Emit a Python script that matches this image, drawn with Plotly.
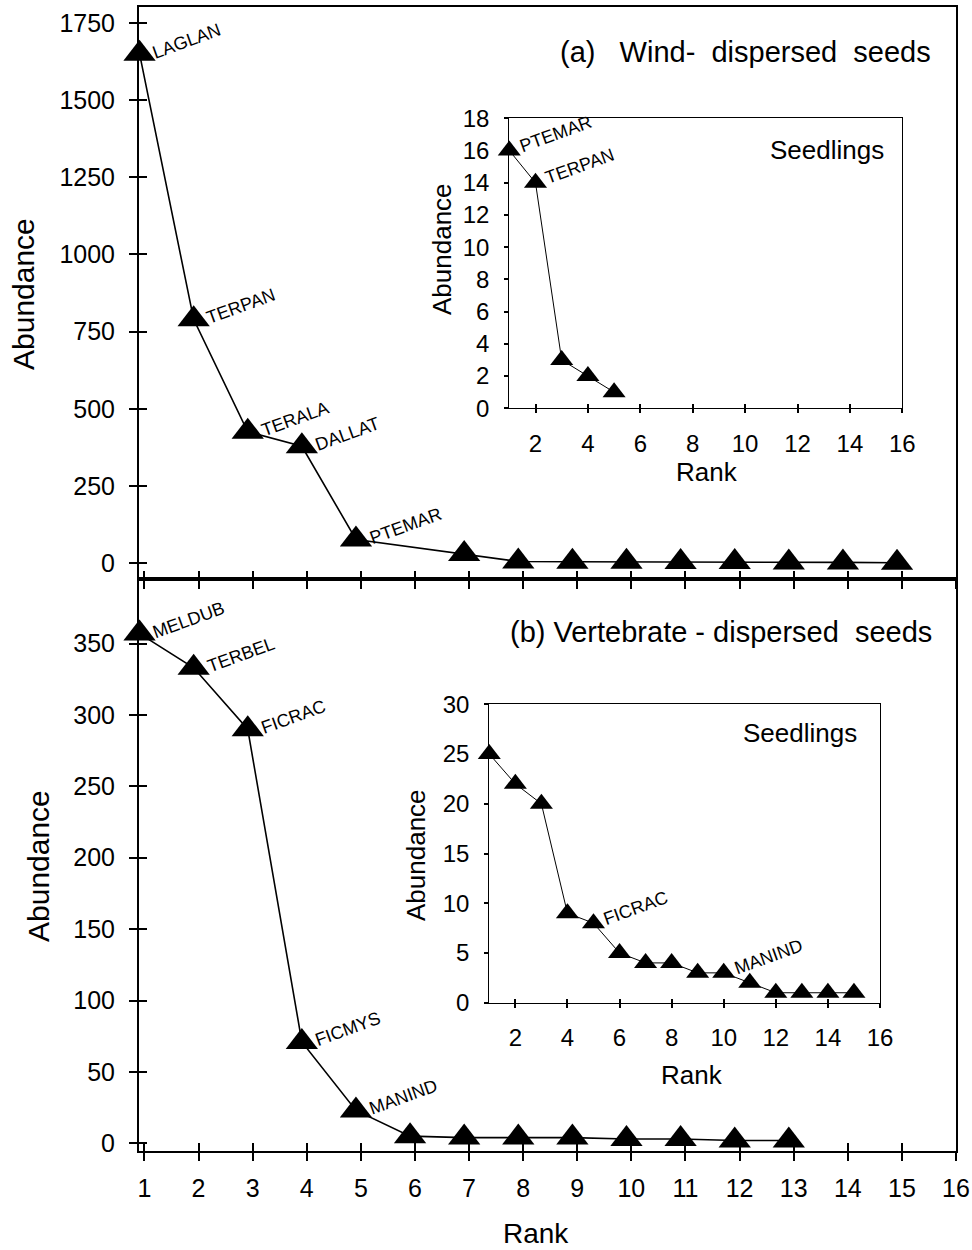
import plotly.graph_objects as go

W, H = 972, 1250
FONT = "Liberation Sans, Arial, sans-serif"


def fx(p):
    return p / W


def fy(p):
    return 1 - p / H


# ---------------- data ----------------
main_tick_ranks = list(range(1, 17))
inset_tick_ranks = [2, 4, 6, 8, 10, 12, 14, 16]

# (a) wind-dispersed seeds (main)
wind_seed_rank = [1, 2, 3, 4, 5, 7, 8, 9, 10, 11, 12, 13, 14, 15]
wind_seed_abund = [1650, 790, 426, 379, 77, 30, 6, 5, 5, 4, 4, 3, 3, 2]
wind_seed_label_rank = [1, 2, 3, 4, 5]
wind_seed_labels = ["LAGLAN", "TERPAN", "TERALA", "DALLAT", "PTEMAR"]

# (a) wind-dispersed seedlings (inset)
wind_sdl_rank = [1, 2, 3, 4, 5]
wind_sdl_abund = [16, 14, 3, 2, 1]
wind_sdl_label_rank = [1, 2]
wind_sdl_labels = ["PTEMAR", "TERPAN"]

# (b) vertebrate-dispersed seeds (main)
vert_seed_rank = list(range(1, 14))
vert_seed_abund = [357, 333, 290, 71, 23, 5, 4, 4, 4, 3, 3, 2, 2]
vert_seed_label_rank = [1, 2, 3, 4, 5]
vert_seed_labels = ["MELDUB", "TERBEL", "FICRAC", "FICMYS", "MANIND"]

# (b) vertebrate-dispersed seedlings (inset)
vert_sdl_rank = list(range(1, 16))
vert_sdl_abund = [25, 22, 20, 9, 8, 5, 4, 4, 3, 3, 2, 1, 1, 1, 1]
vert_sdl_label_rank = [5, 10]
vert_sdl_labels = ["FICRAC", "MANIND"]

titles = ["(a)&nbsp;&nbsp; Wind-&nbsp; dispersed&nbsp;&nbsp;seeds",
          "(b) Vertebrate - dispersed&nbsp;&nbsp;seeds"]

# ---------------- geometry ----------------
TICK_OFFSET = 0.09  # category ticks sit slightly right of the points
MAIN_X_RANGE = [0.99, 16.09]

panels = {
    # name: (xaxis id, yaxis id, x px [l, r], y px [top, bottom], x range, y range)
    "a_main": ("x", "y", (139, 956), (7, 579.3), MAIN_X_RANGE, [-51.8, 1801.4]),
    "a_ins": ("x2", "y2", (509.3, 902.3), (118.3, 408.3), [1, 16], [0, 18]),
    "b_main": ("x3", "y3", (139, 956), (579.3, 1151), MAIN_X_RANGE, [-5.4, 395]),
    "b_ins": ("x4", "y4", (489.3, 880), (704.3, 1002.7), [1, 16], [0, 30]),
}

fig = go.Figure()


def add_series(ax, ay, xs, ys, msize, lw):
    fig.add_trace(go.Scatter(
        x=xs, y=ys, xaxis=ax, yaxis=ay, mode="lines+markers",
        line=dict(color="black", width=lw),
        marker=dict(symbol="triangle-up", size=msize, color="black", line=dict(width=0)),
        showlegend=False, hoverinfo="skip", cliponaxis=False,
    ))


add_series("x", "y", wind_seed_rank, wind_seed_abund, 28, 1.6)
add_series("x2", "y2", wind_sdl_rank, wind_sdl_abund, 20, 1)
add_series("x3", "y3", vert_seed_rank, vert_seed_abund, 28, 1.6)
add_series("x4", "y4", vert_sdl_rank, vert_sdl_abund, 20, 1)

layout = dict(
    width=W, height=H, margin=dict(l=0, r=0, t=0, b=0, autoexpand=False),
    paper_bgcolor="white", plot_bgcolor="white",
    font=dict(family=FONT, color="black"),
    showlegend=False,
)

x_standoff = {"a_main": 6, "b_main": 6, "a_ins": 10, "b_ins": 9}
y_standoff = {"a_main": 9, "b_main": 9, "a_ins": 10, "b_ins": 10}

overlay_id = 5
for name, (ax, ay, xpx, ypx, xr, yr) in panels.items():
    is_main = name.endswith("main")
    xname = "xaxis" + ax[1:]
    yname = "yaxis" + ay[1:]
    lw = 2 if is_main else 1.2
    tl = 8 if is_main else 4
    tfs = 25 if is_main else 24
    if is_main:
        xtv = [r + TICK_OFFSET for r in main_tick_ranks]
        xtt = [str(r) for r in main_tick_ranks]
    else:
        xtv = inset_tick_ranks
        xtt = [str(r) for r in inset_tick_ranks]
    show_x_labels = name != "a_main"
    layout[xname] = dict(
        domain=[fx(xpx[0]), fx(xpx[1])], anchor=ay, range=xr,
        showline=True, linecolor="black", linewidth=lw, mirror=True,
        ticks="outside", ticklen=tl, tickwidth=1.5, tickcolor="black",
        tickmode="array", tickvals=xtv, ticktext=xtt,
        showticklabels=show_x_labels, showgrid=False, zeroline=False,
        tickfont=dict(size=tfs, family=FONT, color="black"),
        ticklabelstandoff=x_standoff[name], automargin=False,
    )
    ydt = {"a_main": 250, "b_main": 50, "a_ins": 2, "b_ins": 5}[name]
    layout[yname] = dict(
        domain=[fy(ypx[1]), fy(ypx[0])], anchor=ax, range=yr,
        showline=True, linecolor="black", linewidth=lw, mirror=True,
        ticks="outside", ticklen=tl, tickwidth=1.5, tickcolor="black",
        tickmode="linear", tick0=0, dtick=ydt,
        showgrid=False, zeroline=False,
        tickfont=dict(size=tfs, family=FONT, color="black"),
        ticklabelstandoff=y_standoff[name], automargin=False,
    )
    # overlay axes drawing the inner half of crossing tick marks
    ox, oy = "x%d" % overlay_id, "y%d" % overlay_id
    layout["xaxis%d" % overlay_id] = dict(
        overlaying=ax, anchor=oy, range=xr, showline=False,
        ticks="inside", ticklen=tl, tickwidth=1.5, tickcolor="black",
        tickmode="array", tickvals=xtv, showticklabels=False,
        showgrid=False, zeroline=False, automargin=False,
    )
    layout["yaxis%d" % overlay_id] = dict(
        overlaying=ay, anchor=ox, range=yr, showline=False,
        ticks="inside" if is_main else "", ticklen=tl, tickwidth=1.5, tickcolor="black",
        tickmode="linear", tick0=0, dtick=ydt, showticklabels=False,
        showgrid=False, zeroline=False, automargin=False,
    )
    fig.add_trace(go.Scatter(x=[None], y=[None], xaxis=ox, yaxis=oy,
                             showlegend=False, hoverinfo="skip"))
    overlay_id += 1

fig.update_layout(**layout)

annotations = []


def point_labels(ax, ay, ranks, vals, lab_ranks, labs, size, xs, ys):
    for r, t in zip(lab_ranks, labs):
        v = vals[ranks.index(r)]
        annotations.append(dict(
            x=r, y=v, xref=ax, yref=ay, text=t, showarrow=False,
            textangle=-20, xanchor="left", yanchor="bottom",
            xshift=xs, yshift=ys, font=dict(size=size, family=FONT, color="black"),
        ))


point_labels("x", "y", wind_seed_rank, wind_seed_abund, wind_seed_label_rank, wind_seed_labels, 18, 8, -11)
point_labels("x2", "y2", wind_sdl_rank, wind_sdl_abund, wind_sdl_label_rank, wind_sdl_labels, 18, 5, -8)
point_labels("x3", "y3", vert_seed_rank, vert_seed_abund, vert_seed_label_rank, vert_seed_labels, 18, 8, -11)
point_labels("x4", "y4", vert_sdl_rank, vert_sdl_abund, vert_sdl_label_rank, vert_sdl_labels, 18, 5, -8)


def text_at(txt, px, py, size, xanchor="center", angle=0):
    annotations.append(dict(
        x=fx(px), y=fy(py), xref="paper", yref="paper", text=txt,
        showarrow=False, xanchor=xanchor, yanchor="middle", textangle=angle,
        font=dict(size=size, family=FONT, color="black"),
    ))


# panel titles
text_at(titles[0], 933, 52, 29, xanchor="right")
text_at(titles[1], 934, 632, 29, xanchor="right")
# inset titles
text_at("Seedlings", 886, 150, 26, xanchor="right")
text_at("Seedlings", 859, 733, 26, xanchor="right")
# axis titles
text_at("Abundance", 24, 294, 30, angle=-90)
text_at("Abundance", 38, 866, 30, angle=-90)
text_at("Rank", 536, 1233, 28)
text_at("Abundance", 442, 249, 26, angle=-90)
text_at("Rank", 707, 472, 26)
text_at("Abundance", 416, 855, 26, angle=-90)
text_at("Rank", 692, 1075, 26)

fig.update_layout(annotations=annotations)

fig.write_html("out.html")
